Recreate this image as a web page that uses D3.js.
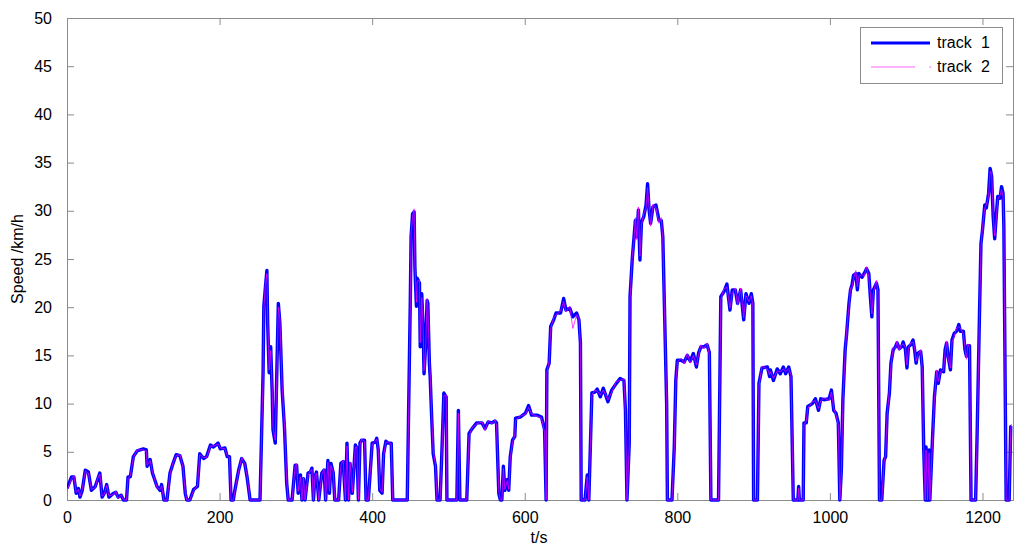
<!DOCTYPE html>
<html><head><meta charset="utf-8">
<script src="https://cdn.jsdelivr.net/npm/d3@7"></script>
<style>body{margin:0;background:#fff}svg{display:block}text{font-family:"Liberation Sans",Arial,sans-serif;fill:#000}</style>
</head><body><svg id="c" width="1024" height="551"></svg>
<script>
const times = [0,6,9,12,15,17,20,24,28,32,37,40,43,46,49,52,55,61,64,67,71,74,78,80,83,87,92,100,104,105,109,112,118,122,124,127,131,135,139,143,148,152,155,157,161,166,171,174,179,183,188,192,198,201,207,210,213,215,218,220,225,229,233,236,240,253,257,258,260,262,263,265,267,269,270,273,275,277,279,282,285,288,290,295,299,301,303,306,308,310,312,316,319,321,323,325,327,330,334,337,339,342,344,346,349,351,356,359,362,365,367,369,371,374,378,380,382,384,386,390,392,395,400,404,406,408,410,413,415,418,421,425,427,446,448,450,451,453,455,456,458,459,462,463,465,467,468,470,472,473,475,476,478,480,483,485,489,491,494,497,498,511,513,515,524,527,531,537,544,548,552,557,561,563,566,568,570,572,574,577,579,581,584,587,588,594,601,605,609,616,622,626,628,629,632,634,638,641,647,651,654,659,663,668,671,673,674,679,682,684,688,692,695,699,703,709,714,720,725,730,732,734,737,738,741,743,745,747,749,751,753,756,759,761,763,765,768,772,776,779,781,783,786,787,791,793,796,798,800,805,809,813,817,821,825,828,831,835,839,842,844,854,857,861,865,869,872,876,879,883,887,890,894,897,899,900,905,907,911,918,921,922,926,931,935,939,942,946,949,952,958,959,960,965,966,969,971,977,981,985,988,992,999,1002,1005,1008,1011,1013,1015,1017,1020,1022,1025,1027,1029,1031,1034,1036,1038,1042,1045,1048,1051,1053,1055,1057,1061,1063,1065,1068,1071,1073,1075,1078,1080,1083,1086,1088,1091,1094,1096,1099,1101,1103,1106,1109,1111,1113,1115,1119,1121,1123,1125,1126,1128,1130,1131,1135,1137,1140,1142,1145,1149,1151,1153,1155,1158,1160,1163,1166,1169,1171,1175,1177,1179,1181,1183,1185,1191,1193,1196,1198,1200,1203,1205,1208,1210,1212,1214,1216,1218,1220,1223,1225,1227,1228,1229,1231,1235,1237,1238];
const track1 = [1.2,2.4,2.4,0.7,1.2,0.3,1.0,3.1,2.9,1.0,1.4,2.1,2.8,0.3,0.7,1.6,0.3,0.7,0.8,0.3,0.5,0,0,2.4,2.4,4.5,5.1,5.3,5.2,3.5,4.2,2.8,1.4,1.0,1.6,0,0,2.8,3.8,4.7,4.6,3.5,0.7,0,0,1.1,1.4,4.8,4.3,4.5,5.7,5.5,5.9,5.3,5.4,4.5,4.5,0,0,1.0,3.1,4.3,3.8,2.4,0,0,13.2,20.1,22,23.8,18.4,13.2,15.9,11.1,7.3,5.9,13.2,20.4,18.4,11.4,7.6,1.7,0,0,3.6,3.6,0.7,2.6,0,2.2,0,2.8,2.9,3.3,0,2.4,2.9,0,2.8,3.1,0,4.1,0.7,3.8,2.8,0,0,3.8,4.0,0,5.9,0,3.8,0.7,5.7,5.4,0,5.9,6.2,6.2,0,0,5.9,6.0,6.4,5.2,1.0,0.7,4.8,6.1,5.9,5.9,0,0,10.4,20.7,27.3,29.7,29.9,24.2,20.1,23.0,22.5,15.9,21.4,17.3,13.1,15.9,20.7,20.4,14.2,12.8,8.6,4.8,3.5,0,0,4.1,11.1,10.7,0,0,9.3,0,0,6.9,7.4,8.0,8.0,7.4,8.1,8.0,8.2,8.0,0.7,0,0,3.5,1.0,2.1,1.0,4.5,6.2,6.6,8.5,8.6,9.0,9.8,8.8,8.8,8.6,7.3,0,13.5,14.2,18.0,18.7,19.4,19.4,20.9,19.7,19.9,19.0,19.4,18.7,16.3,0,0,2.6,0,11.1,11.2,11.5,10.7,11.6,10.2,11.4,12.1,12.6,12.4,9.3,0,5.9,21.1,25.1,27.0,29.0,27.3,30.1,24.9,28.8,29.4,30.6,32.8,30.1,28.7,30.4,30.6,29.0,29.0,27.3,20.4,10.0,0,0,0,5.5,12.4,14.5,14.5,14.3,15.0,14.4,15.2,13.8,15.3,15.9,15.9,16.1,15.3,0,0,21.1,21.6,22.4,19.7,21.8,21.8,20.4,21.8,18.7,21.4,20.4,21.4,20.4,0,0,12.1,13.7,13.8,12.8,13.5,12.4,13.6,13.1,13.8,13.1,13.8,12.8,0,0,1.4,0,0,8.0,8.0,9.7,10.0,10.5,9.3,10.5,10.4,10.5,11.4,9.3,9.0,8.0,0,3.1,10.4,15.6,17.3,20.4,21.8,22.3,23.3,23.5,21.8,23.5,23.1,23.5,24.0,23.5,21.1,19.0,21.8,22.5,21.8,0,0,4.1,4.5,9.0,11.1,14.2,15.6,15.9,16.3,15.7,15.9,16.4,15.6,13.7,15.9,16.1,16.6,15.6,14.2,15.2,15.4,13.8,5.2,0,5.5,0,5.2,0,7.3,10.7,13.3,12.1,13.5,13.3,15.6,16.3,14.9,13.5,16.6,17.3,17.5,18.2,17.5,17.5,15.6,14.9,16.0,16.0,0,0,6.9,19.0,26.6,28.0,30.6,30.3,31.8,34.4,33.6,29.4,27.1,29.4,31.5,31.3,32.5,31.8,28.4,19.0,0,0,7.6,7.7];
const track2 = [1.0,2.2,2.5,0.8,1.1,0.4,1.1,3.0,2.8,1.1,1.3,2.2,2.7,0.4,0.6,1.5,0.4,0.6,0.9,0.2,0.5,0,0,2.2,2.5,4.4,5.2,5.2,5.1,3.6,4.1,2.9,1.3,1.1,1.5,0,0,2.7,3.9,4.6,4.7,3.4,0.8,0,0,1.0,1.5,4.7,4.4,4.4,5.6,5.6,5.8,5.4,5.3,4.6,4.4,0,0,0.9,3.0,4.4,3.7,2.5,0,0,12.8,19.8,22.3,23.5,18.8,13.5,15.5,11.4,7.6,6.2,12.8,20.0,18.8,11.8,7.9,2.0,0,0,3.4,3.8,0.9,2.4,0,2.3,0,2.6,3.0,3.2,0,2.5,2.8,0,2.7,3.2,0,3.9,0.9,3.6,2.9,0,0,3.6,4.1,0,5.6,0,3.9,0.8,5.5,5.5,0,5.7,6.3,6.1,0,0,5.8,6.1,6.3,5.3,1.2,0.8,4.6,6.0,6.0,5.8,0,0,10.0,20.3,27.6,29.4,30.2,24.6,20.5,22.7,22.8,16.3,21.0,17.6,13.4,15.6,20.9,20.1,14.5,13.1,8.9,5.1,3.7,0,0,3.9,10.8,10.9,0,0,9.0,0,0,6.7,7.5,7.9,8.1,7.2,8.2,7.9,8.3,7.8,0.9,0,0,3.3,1.1,2.0,1.1,4.3,6.0,6.8,8.3,8.7,8.9,9.6,8.9,8.7,8.5,7.0,0,13.2,14.4,17.8,18.9,19.2,19.6,20.6,19.5,20.1,17.8,19.2,18.9,16.0,0,0,2.4,0,10.9,11.4,11.3,10.9,11.4,10.4,11.2,12.3,12.4,12.6,9.0,0,5.6,20.8,25.4,26.7,29.3,27.0,30.4,25.3,28.5,29.7,30.3,32.4,30.4,28.4,30.7,30.3,28.7,29.3,27.0,20.1,10.3,0,0,0,5.2,12.1,14.3,14.7,14.1,15.2,14.2,15.0,14.0,15.1,16.1,15.7,16.3,15.0,0,0,20.8,21.9,22.1,19.9,21.5,22.0,20.2,22.0,18.9,21.2,20.6,21.2,20.1,0,0,11.8,13.9,13.6,13.0,13.3,12.6,13.4,13.3,13.6,13.3,13.6,13.0,0,0,1.2,0,0,7.8,8.2,9.5,10.2,10.3,9.5,10.3,10.6,10.3,11.2,9.5,8.8,7.8,0,2.9,10.1,15.3,17.6,20.1,22.0,22.0,23.0,23.8,22.1,23.2,23.4,23.2,24.2,23.2,21.4,19.3,21.5,22.8,21.5,0,0,3.9,4.7,8.7,11.4,13.9,15.8,15.7,16.5,15.5,16.1,16.2,15.8,14.0,15.7,16.3,16.4,15.8,14.4,15.0,15.6,13.5,4.9,0,5.2,0,4.9,0,7.0,10.4,13.5,12.3,13.3,13.5,15.3,16.5,14.7,13.7,16.4,17.0,17.8,18.0,17.8,17.2,15.8,14.6,16.2,15.8,0,0,6.6,18.7,26.3,28.3,30.3,30.6,31.5,34.1,33.9,29.7,27.4,29.1,31.2,31.6,32.2,31.5,28.1,18.6,0,0,7.3,7.9];
const yTicks = [0,5,10,15,20,25,30,35,40,45,50];
const xTicks = [0,200,400,600,800,1000,1200];
const seriesNames = ["track 1","track 2"];

const svg = d3.select("#c");
const L=67, R=1013, T=18, B=500;
const x = d3.scaleLinear().domain([0,1240]).range([L,R]);
const y = d3.scaleLinear().domain([0,50]).range([B,T]);

svg.append("defs").append("clipPath").attr("id","clip").append("rect")
  .attr("x",L).attr("y",T-2).attr("width",R-L).attr("height",B-T+4);

const grey="#8c8c8c";
const gB = svg.append("g").attr("transform",`translate(0,${B})`)
  .call(d3.axisBottom(x).tickValues(xTicks).tickSize(-7).tickPadding(15).tickFormat(d3.format("d")));
const gT = svg.append("g").attr("transform",`translate(0,${T})`)
  .call(d3.axisTop(x).tickValues(xTicks).tickSize(-7).tickFormat(""));
const gL = svg.append("g").attr("transform",`translate(${L},0)`)
  .call(d3.axisLeft(y).tickValues(yTicks).tickSize(-7).tickPadding(15));
const gR = svg.append("g").attr("transform",`translate(${R},0)`)
  .call(d3.axisRight(y).tickValues(yTicks).tickSize(-7).tickFormat(""));
[gB,gT,gL,gR].forEach(g=>{
  g.select(".domain").attr("stroke",grey).attr("stroke-width",1);
  g.selectAll(".tick line").attr("stroke",grey);
  g.selectAll("text").attr("font-size",16).attr("font-family","Liberation Sans, Arial, sans-serif").attr("fill","#000");
});
gB.selectAll("text").attr("dy","0.5em");

const line = d3.line().x((d,i)=>x(times[i])).y(d=>y(d));
const pg = svg.append("g").attr("clip-path","url(#clip)");
pg.append("path").datum(track1).attr("d",line).attr("fill","none")
  .attr("stroke","#0000ff").attr("stroke-width",3.4).attr("stroke-linejoin","round");
pg.append("path").datum(track2).attr("d",line).attr("fill","none")
  .attr("stroke","#ff00ff").attr("stroke-width",0.8).attr("stroke-opacity",0.9);

svg.append("text").attr("x",539).attr("y",543).attr("text-anchor","middle").attr("font-size",16).text("t/s");
svg.append("text").attr("transform","translate(23,259) rotate(-90)").attr("text-anchor","middle").attr("font-size",16).text("Speed /km/h");

const lg = svg.append("g");
lg.append("rect").attr("x",860.5).attr("y",27.5).attr("width",142).attr("height",56)
  .attr("fill","#fff").attr("stroke",grey);
lg.append("line").attr("x1",871).attr("x2",930).attr("y1",43).attr("y2",43).attr("stroke","#0000ff").attr("stroke-width",3);
lg.append("line").attr("x1",871).attr("x2",915).attr("y1",67).attr("y2",67).attr("stroke","#ff66ff").attr("stroke-width",1);
lg.append("line").attr("x1",929).attr("x2",931).attr("y1",67).attr("y2",67).attr("stroke","#ff66ff").attr("stroke-width",1);
lg.selectAll("text.lg").data(seriesNames).enter().append("text")
  .attr("x",937).attr("y",(d,i)=>48+i*24).attr("font-size",16).attr("word-spacing",5).text(d=>d);
</script></body></html>
